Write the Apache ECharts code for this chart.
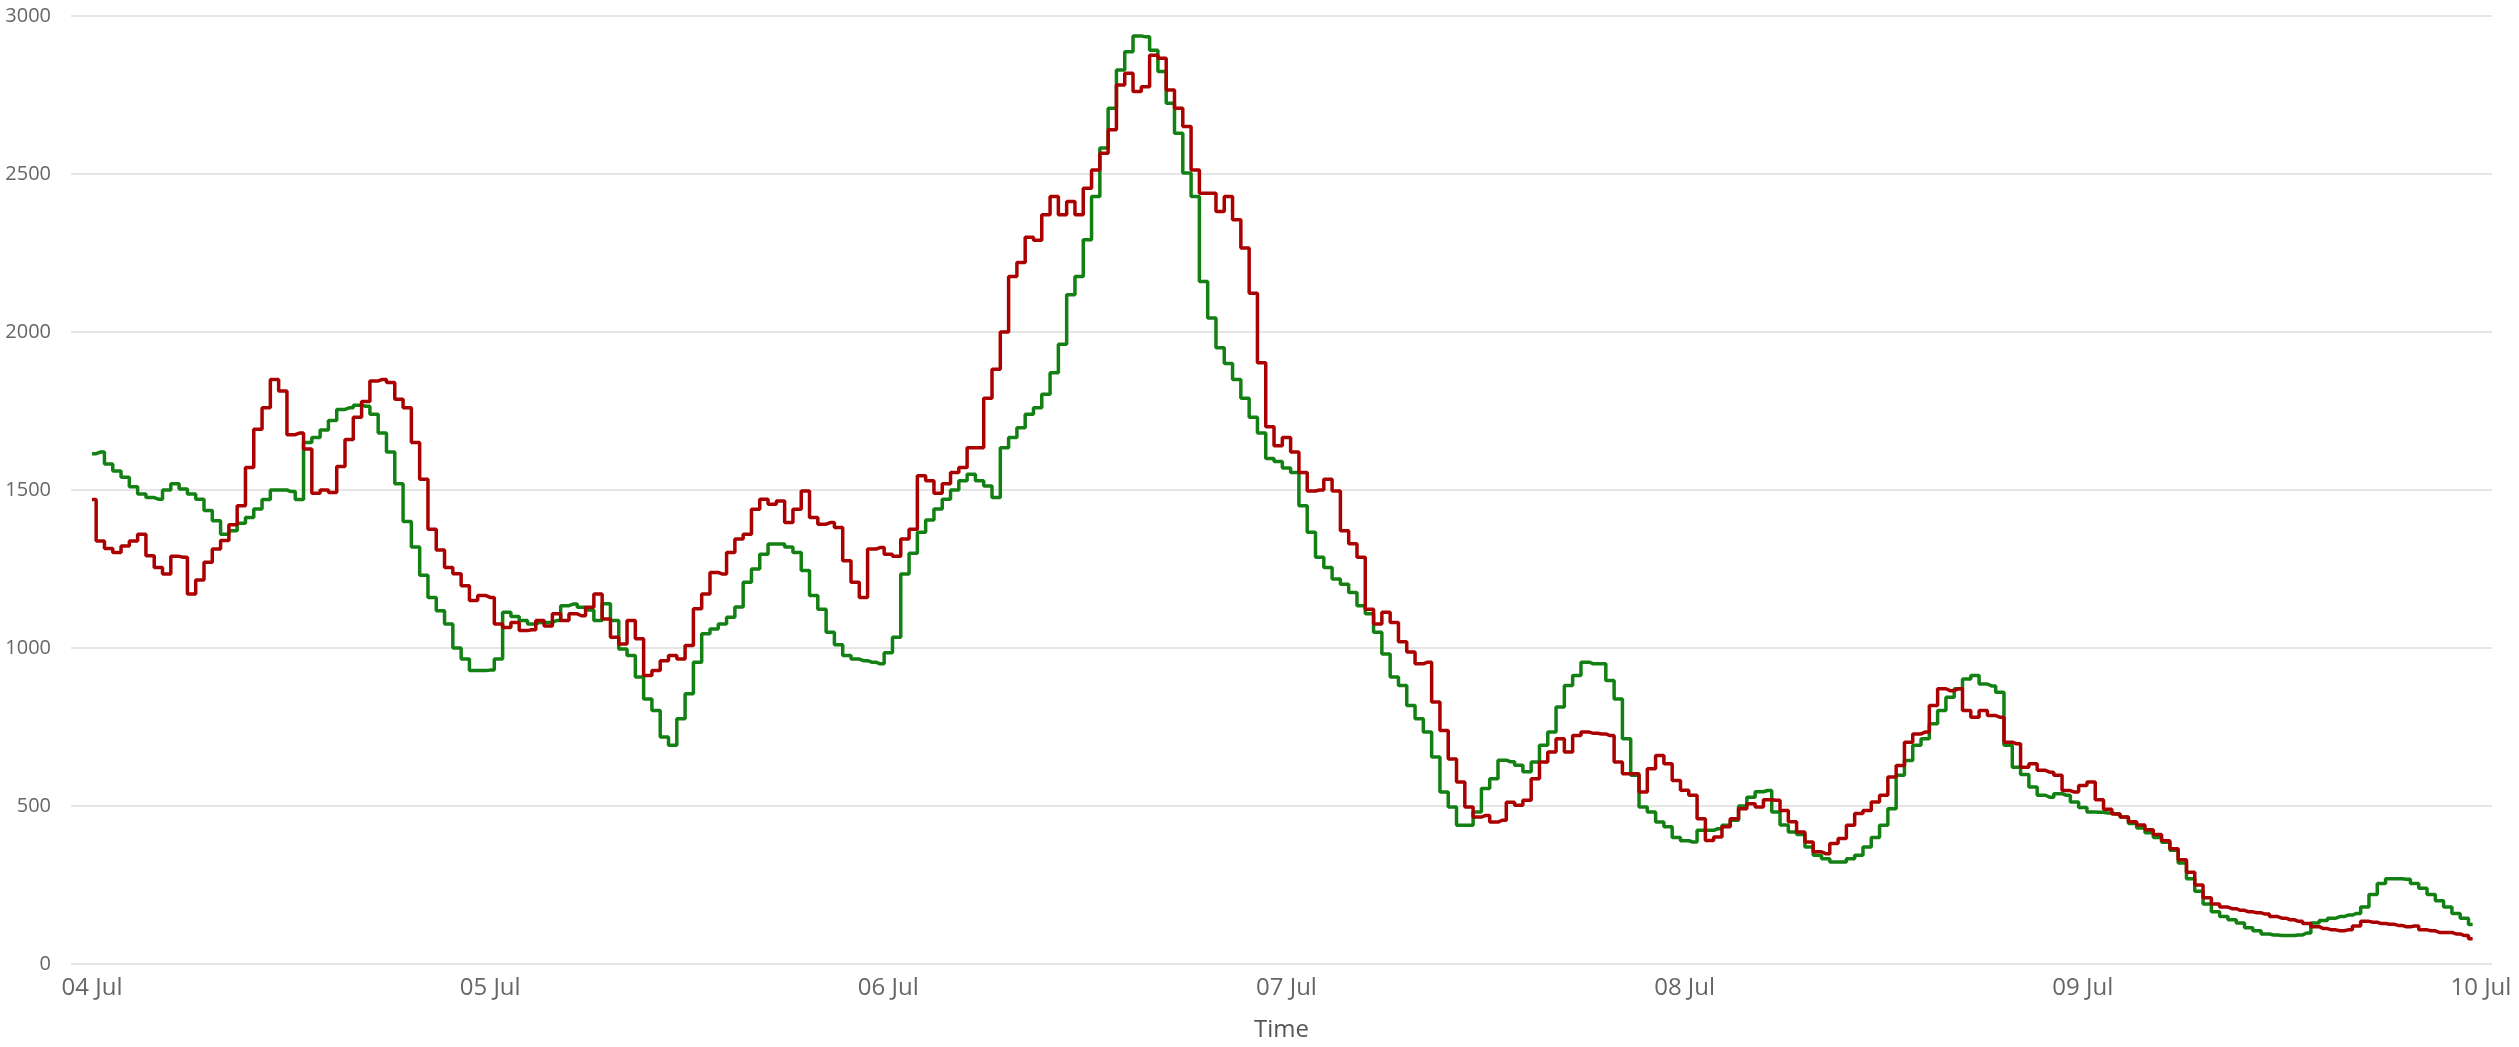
<!DOCTYPE html>
<html>
<head>
<meta charset="utf-8">
<script src="https://cdn.jsdelivr.net/npm/echarts@6/dist/echarts.min.js"></script>
<style>
html,body{margin:0;padding:0;background:#ffffff;}
#chart{width:2519px;height:1047px;}
</style>
</head>
<body>
<div id="chart"></div>
<script>
// Sampling grid: half-hourly from 04 Jul 00:00
const startTime = new Date(2024, 6, 4, 0, 0, 0).getTime();
const stepMs = 30 * 60 * 1000;

const redValues = [
1470,1339,1315,1302,1323,1339,1360,1292,1255,1234,1290,1287,1171,1215,1271,1313,
1340,1390,1450,1571,1692,1760,1850,1813,1675,1680,1630,1490,1500,1492,1574,1660,
1730,1780,1845,1850,1840,1787,1760,1650,1534,1376,1310,1255,1235,1197,1150,1166,
1160,1076,1065,1081,1055,1058,1087,1070,1108,1087,1108,1102,1129,1171,1092,1034,
1013,1087,1029,913,929,960,976,965,1008,1124,1171,1239,1234,1302,1345,1360,
1439,1471,1455,1465,1397,1439,1497,1413,1392,1397,1381,1276,1208,1160,1313,1318,
1297,1290,1345,1376,1545,1529,1490,1520,1555,1571,1634,1634,1790,1882,2000,2176,
2220,2300,2290,2371,2429,2371,2413,2371,2455,2513,2566,2640,2782,2819,2761,2776,
2876,2866,2766,2708,2650,2513,2439,2439,2381,2429,2355,2266,2123,1903,1700,1640,
1666,1620,1555,1497,1500,1534,1497,1371,1330,1287,1123,1076,1113,1081,1020,987,
950,955,829,739,649,576,497,465,470,449,455,512,502,518,586,639,
671,713,671,723,734,730,728,723,639,602,602,544,618,660,634,581,
550,534,460,391,402,434,460,491,507,497,520,518,486,450,418,386,
355,349,381,397,439,476,486,513,534,592,628,702,728,734,818,871,
865,871,802,781,802,786,781,702,697,623,634,613,607,597,549,544,
565,576,520,490,475,465,450,440,425,410,390,365,330,290,250,210,
190,180,175,170,165,162,158,150,145,140,135,128,118,112,108,105,
108,120,135,132,128,126,122,118,120,108,105,100,100,95,90,80
];

const greenValues = [
1615,1620,1582,1560,1540,1510,1487,1476,1471,1500,1520,1503,1487,1471,1435,1403,
1360,1371,1395,1413,1440,1470,1500,1500,1495,1470,1650,1666,1690,1720,1755,1760,
1768,1765,1740,1680,1620,1520,1400,1320,1230,1160,1118,1076,1000,965,929,929,
930,965,1113,1100,1087,1076,1081,1081,1087,1134,1139,1129,1120,1087,1140,1087,
997,976,908,839,802,718,692,776,855,955,1045,1060,1076,1097,1130,1208,
1250,1297,1329,1329,1320,1302,1245,1166,1123,1050,1010,976,965,960,955,950,
985,1034,1234,1300,1366,1405,1440,1471,1500,1529,1550,1529,1513,1476,1634,1666,
1697,1740,1760,1803,1871,1961,2118,2176,2292,2429,2582,2708,2829,2887,2937,2934,
2892,2824,2724,2629,2503,2429,2160,2044,1950,1900,1850,1790,1730,1680,1600,1590,
1570,1555,1450,1366,1287,1255,1218,1202,1176,1134,1108,1050,981,908,881,818,
776,734,655,544,497,439,439,481,555,586,645,640,629,608,639,692,
734,813,881,913,955,950,950,897,839,713,597,497,481,449,434,400,
390,386,423,423,428,439,455,500,528,545,549,481,440,418,410,370,
344,333,323,323,333,344,370,400,439,491,597,644,692,713,760,802,
844,871,902,913,886,880,860,692,623,600,560,534,528,539,534,513,
495,481,480,478,475,465,445,430,415,400,385,360,320,270,230,190,
165,150,140,130,115,105,95,92,90,90,92,98,130,138,145,150,
155,160,180,220,255,270,270,268,255,240,220,200,180,160,145,125
];

const yAxisTicks = { min: 0, max: 3000, interval: 500 };
const axisName = 'Time';
const monthNames = ['Jan','Feb','Mar','Apr','May','Jun','Jul','Aug','Sep','Oct','Nov','Dec'];

function toPairs(values) {
  return values.map(function (v, i) { return [startTime + i * stepMs, v]; });
}

const chart = echarts.init(document.getElementById('chart'), null, { renderer: 'canvas' });
const fontFamily = '"Open Sans", "Noto Sans", sans-serif';

chart.setOption({
  animation: false,
  backgroundColor: '#ffffff',
  grid: { left: 71, right: 27, top: 16, bottom: 81, containLabel: false },
  xAxis: {
    type: 'time',
    min: startTime - 76 * 60 * 1000,
    max: startTime + 144 * 3600 * 1000 + 40 * 60 * 1000,
    minInterval: 24 * 3600 * 1000,
    maxInterval: 24 * 3600 * 1000,
    name: axisName,
    nameLocation: 'middle',
    nameGap: 54,
    nameTextStyle: { color: '#555555', fontSize: 24, fontFamily: fontFamily },
    axisLine: { show: false },
    axisTick: { show: false },
    splitLine: { show: false },
    axisLabel: {
      color: '#666666',
      fontSize: 24,
      fontFamily: fontFamily,
      margin: 12,
      hideOverlap: false,
      formatter: function (val) {
        const d = new Date(val);
        if (d.getHours() !== 0 || d.getMinutes() !== 0) return '';
        const dd = (d.getDate() < 10 ? '0' : '') + d.getDate();
        return dd + ' ' + monthNames[d.getMonth()];
      }
    }
  },
  yAxis: {
    type: 'value',
    min: yAxisTicks.min,
    max: yAxisTicks.max,
    interval: yAxisTicks.interval,
    axisLine: { show: false },
    axisTick: { show: false },
    axisLabel: {
      color: '#666666', fontSize: 20, fontFamily: fontFamily, margin: 20,
      formatter: function (v) { return String(v); }
    },
    splitLine: { show: true, lineStyle: { color: '#e6e6e6', width: 2 } }
  },
  series: [
    {
      name: 'Green',
      type: 'line',
      step: 'middle',
      showSymbol: false,
      symbol: 'none',
      data: toPairs(greenValues),
      lineStyle: { color: '#138013', width: 3.5 },
      itemStyle: { color: '#138013' },
      z: 2
    },
    {
      name: 'Red',
      type: 'line',
      step: 'middle',
      showSymbol: false,
      symbol: 'none',
      data: toPairs(redValues),
      lineStyle: { color: '#aa0000', width: 3.5 },
      itemStyle: { color: '#aa0000' },
      z: 3
    }
  ]
});
</script>
</body>
</html>
